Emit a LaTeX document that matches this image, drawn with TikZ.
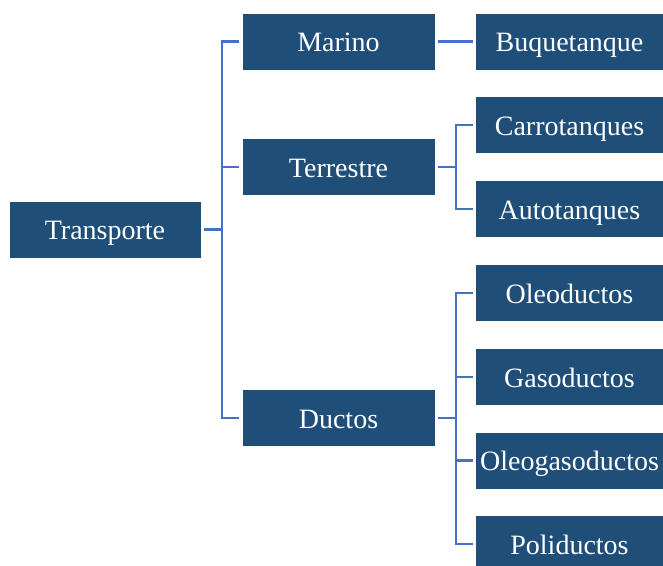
\documentclass[tikz,border=0pt]{standalone}
\usepackage{fontspec}
\setmainfont{Liberation Serif}
\definecolor{boxblue}{RGB}{31, 78, 121}
\definecolor{linkblue}{RGB}{68, 114, 196}
\usepackage{tikz}
\usetikzlibrary{positioning, calc}

\begin{document}
\begin{tikzpicture}[
  x=1pt, y=-1pt,
  tbox/.style={fill=boxblue, draw=none, text=white, minimum height=56pt, inner sep=0pt,
    text height=20pt, text depth=0pt, font=\fontsize{28}{32}\selectfont},
  rootbox/.style={tbox, minimum width=191pt},
  midbox/.style={tbox, minimum width=192pt},
  leafbox/.style={tbox, minimum width=187pt},
  link/.style={draw=linkblue, line width=2.3pt, shorten <=3pt, shorten >=3pt}
]
  \useasboundingbox (0,0) rectangle (663,565);

  % root
  \node[rootbox] (transporte) at (105, 229.5) {Transporte};

  % second level
  \node[midbox] (marino) at (338.5, 41.5) {Marino};
  \node[midbox] (terrestre) at (338.5, 167) {Terrestre};
  \node[midbox] (ductos) at (338.5, 418) {Ductos};

  % leaves
  \node[leafbox] (buque) at (569.5, 41.5) {Buquetanque};
  \node[leafbox] (carro) at (569.5, 125) {Carrotanques};
  \node[leafbox] (auto) at (569.5, 209) {Autotanques};
  \node[leafbox] (oleo) at (569.5, 293) {Oleoductos};
  \node[leafbox] (gaso) at (569.5, 377) {Gasoductos};
  \node[leafbox] (oleogaso) at (569.5, 460.5) {Oleogasoductos};
  \node[leafbox] (poli) at (569.5, 544) {Poliductos};

  % connectors
  \coordinate (tj) at ($(transporte.east)+(21,0)$);
  \draw[link, shorten >=0pt] (transporte.east) -- (tj);
  \foreach \n in {marino, terrestre, ductos}
    \draw[link, shorten <=0pt] (tj) |- (\n.west);

  \draw[link] (marino.east) -- (buque.west);

  \coordinate (tr) at ($(terrestre.east)+(21,0)$);
  \draw[link, shorten >=0pt] (terrestre.east) -- (tr);
  \foreach \n in {carro, auto}
    \draw[link, shorten <=0pt] (tr) |- (\n.west);

  \coordinate (du) at ($(ductos.east)+(21,0)$);
  \draw[link, shorten >=0pt] (ductos.east) -- (du);
  \foreach \n in {oleo, gaso, oleogaso, poli}
    \draw[link, shorten <=0pt] (du) |- (\n.west);
\end{tikzpicture}
\end{document}
